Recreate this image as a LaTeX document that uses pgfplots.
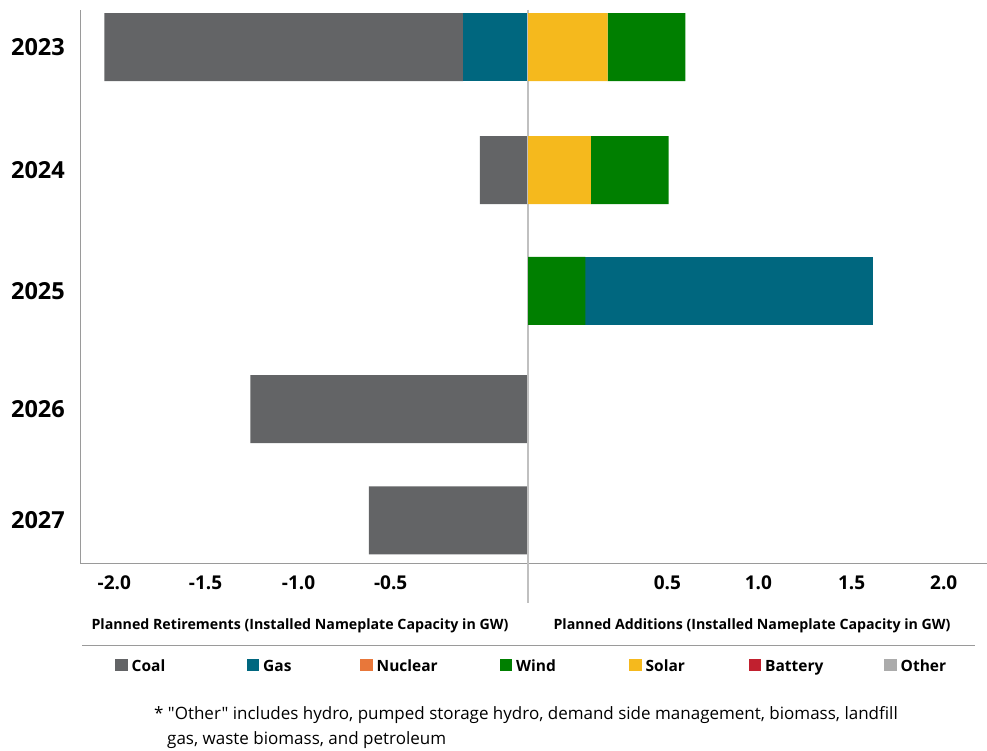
\documentclass[border=0pt]{standalone}
\usepackage{fontspec}
\setmainfont{Open Sans}
\newfontfamily\notefont{Open Sans}[Ligatures=TeXOff]
\usepackage{pgfplots}
\pgfplotsset{compat=1.18}
\definecolor{coalc}{HTML}{636466}
\definecolor{gasc}{HTML}{00677F}
\definecolor{nucc}{HTML}{E8773A}
\definecolor{windc}{HTML}{007F00}
\definecolor{solarc}{HTML}{F5B91D}
\definecolor{battc}{HTML}{C1202F}
\definecolor{othc}{HTML}{ABABAB}
\definecolor{spine}{HTML}{9A9A9A}
\definecolor{zeroc}{HTML}{C0C0C0}
\pgfplotsset{
  common/.style={
    at={(81pt,187pt)}, anchor=south west,
    scale only axis, width=906pt, height=554pt,
    xmin=-2.416, xmax=2.481, ymin=-0.368, ymax=4.313,
    xbar stacked, bar width=68pt,
  },
}
\begin{document}
\begin{tikzpicture}
\useasboundingbox (0,0) rectangle (987pt,751pt);
% Retirements (negative side)
\begin{axis}[common,
  axis x line*=bottom, axis y line*=left,
  axis line style={-, draw=spine, line width=1pt},
  major tick length=0pt,
  xtick={-2.236,-1.743,-1.240,-0.742,0.753,1.245,1.749,2.247},
  xticklabels={-2.0,-1.5,-1.0,-0.5,0.5,1.0,1.5,2.0},
  xticklabel style={font=\fontsize{19}{22}\selectfont\bfseries, anchor=center, inner sep=0pt, yshift=-19pt},
  ytick={4,2.96,1.94,0.94,0},
  yticklabels={2023,2024,2025,2026,2027},
  yticklabel style={font=\fontsize{23.5}{28}\selectfont\bfseries, anchor=east, inner sep=0pt, xshift=-16pt},
  legend columns=7,
  legend style={draw=none, fill=none, inner sep=0pt, column sep=0pt,
    at={(34pt,-102pt)}, anchor=west,
    nodes={inner sep=0pt, anchor=base west, font=\fontsize{15.5}{18}\selectfont\bfseries}},
  legend image code/.code={\fill[#1] (0pt,0.5pt) rectangle (12.5pt,13pt);},
]
\addlegendimage{fill=coalc, draw=none}\addlegendentry{\makebox[119pt][l]{\hspace{4pt}Coal}}
\addlegendimage{fill=gasc, draw=none}\addlegendentry{\makebox[101pt][l]{\hspace{4pt}Gas}}
\addlegendimage{fill=nucc, draw=none}\addlegendentry{\makebox[127pt][l]{\hspace{4pt}Nuclear}}
\addlegendimage{fill=windc, draw=none}\addlegendentry{\makebox[117pt][l]{\hspace{4pt}Wind}}
\addlegendimage{fill=solarc, draw=none}\addlegendentry{\makebox[107pt][l]{\hspace{4pt}Solar}}
\addlegendimage{fill=battc, draw=none}\addlegendentry{\makebox[123pt][l]{\hspace{4pt}Battery}}
\addlegendimage{fill=othc, draw=none}\addlegendentry{\hspace{4pt}Other}
% Gas retirements
\addplot[fill=gasc, draw=none, forget plot] coordinates {(-0.35,4) (0,2.96) (0,1.94) (0,0.94) (0,0)};
% Coal retirements
\addplot[fill=coalc, draw=none, forget plot] coordinates {(-1.94,4) (-0.26,2.96) (0,1.94) (-1.50,0.94) (-0.86,0)};
\end{axis}
% Additions (positive side)
\begin{axis}[common, hide axis, clip=false]
\addplot[fill=solarc, draw=none] coordinates {(0.43,4) (0.34,2.96) (0,1.94) (0,0.94) (0,0)};
\addplot[fill=windc, draw=none] coordinates {(0.42,4) (0.42,2.96) (0.31,1.94) (0,0.94) (0,0)};
\addplot[fill=gasc, draw=none] coordinates {(0,4) (0,2.96) (1.555,1.94) (0,0.94) (0,0)};
\draw[zeroc, line width=1.2pt] (axis cs:0,4.313) -- (axis cs:0,-0.698);
\end{axis}
\node[anchor=base, font=\fontsize{14.2}{17}\selectfont\bfseries] at (300pt,121pt) {Planned Retirements (Installed Nameplate Capacity in GW)};
\node[anchor=base, font=\fontsize{14.2}{17}\selectfont\bfseries] at (752pt,121pt) {Planned Additions (Installed Nameplate Capacity in GW)};
\draw[spine, line width=1pt] (82pt,105pt) -- (975pt,105pt);
\node[anchor=base west, inner sep=0pt, font=\notefont\fontsize{17}{20}\selectfont] at (154pt,31pt) {* "Other" includes hydro, pumped storage hydro, demand side management, biomass, landfill};
\node[anchor=base west, inner sep=0pt, font=\notefont\fontsize{17}{20}\selectfont] at (167pt,6pt) {gas, waste biomass, and petroleum};
\end{tikzpicture}
\end{document}
